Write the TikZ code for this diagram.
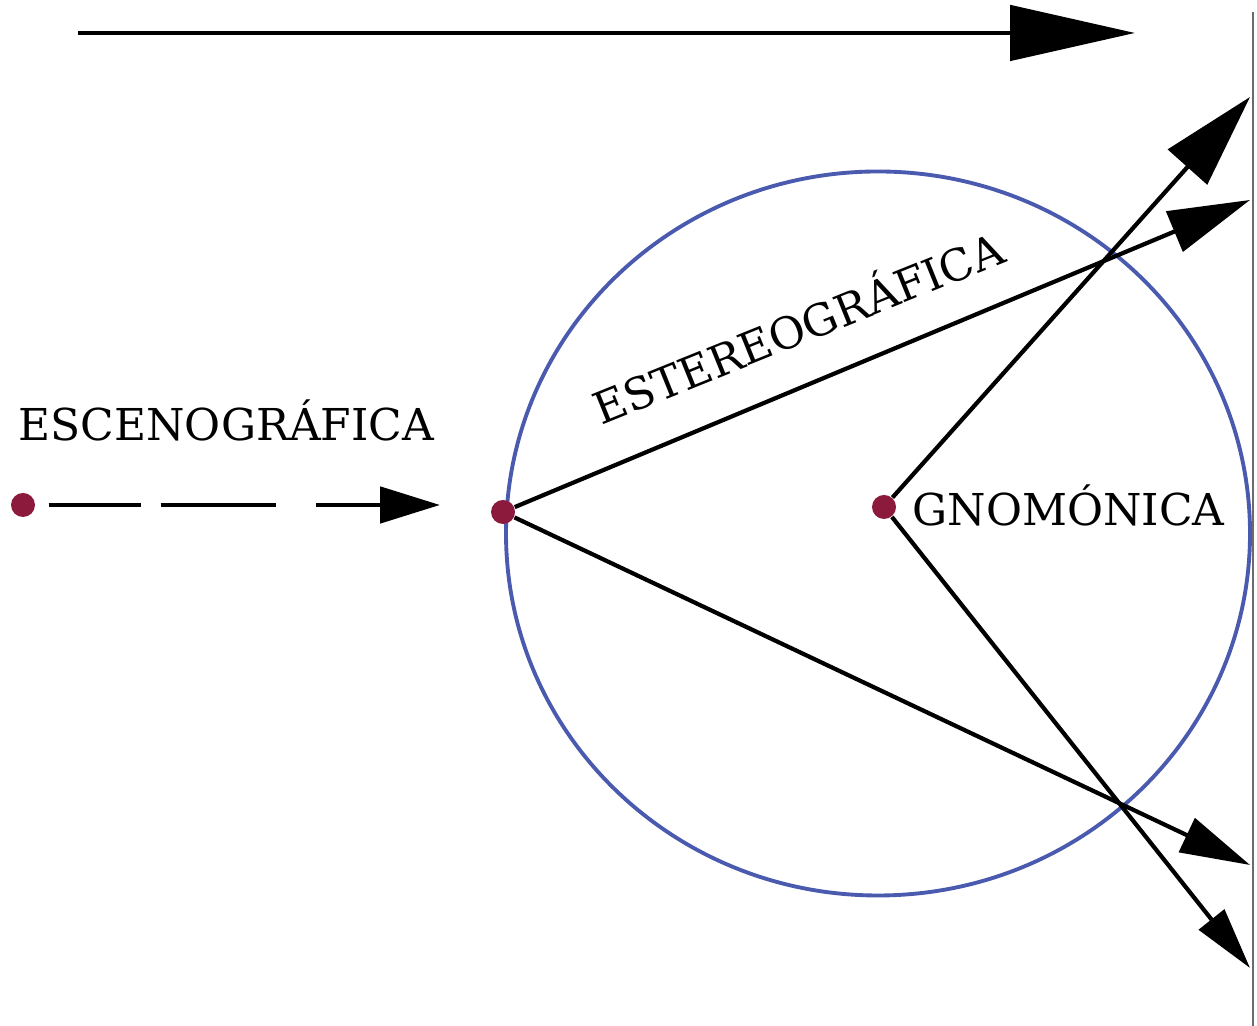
\documentclass[tikz,border=0pt]{standalone}
\usepackage{fontspec}
\setmainfont{DejaVu Serif}
\usepackage{tikz}
\usetikzlibrary{arrows.meta, positioning, calc}
\definecolor{ptcol}{HTML}{8C1A3C}
\definecolor{rimcol}{HTML}{4A5AAE}
\definecolor{edgecol}{HTML}{6A6A70}

\begin{document}
\begin{tikzpicture}[
    pt/.style={circle, fill=ptcol, minimum size=2.4mm, inner sep=0pt},
    lbl/.style={font=\fontsize{12.5}{15}\selectfont, inner sep=0pt},
    ray/.style={line width=1.2pt, black},
    rim/.style={line width=1.1pt, rimcol}]
  \useasboundingbox (0,0) rectangle (12.57,10.26);
  % top arrow
  \coordinate (t0) at (0.78,9.93);
  \coordinate (t1) at (11.35,9.93);
  \draw[line width=1.4pt, -{Triangle[length=12.5mm, width=5.5mm]}] (t0) -- (t1);
  % right edge
  \coordinate (r0) at (12.53,10.14);
  \coordinate (r1) at (12.53,0);
  \draw[edgecol, line width=0.8pt] (r0) -- (r1);
  % sphere
  \node[draw=none, inner sep=0pt] (c) at (8.78,4.925) {};
  \draw[rim] (c) ellipse [x radius=3.72, y radius=3.62];
  % points
  \node[pt] (pO) at (0.23,5.21) {};
  \node[pt] (pS) at (5.03,5.14) {};
  \node[pt] (pG) at (8.84,5.19) {};
  % ray ends
  \coordinate (s1) at (12.50,8.26);
  \coordinate (s2) at (12.50,1.61);
  \coordinate (g1) at (12.50,9.29);
  \coordinate (g2) at (12.50,0.58);
  \coordinate (d1) at (4.40,5.21);
  % escenografica
  \draw[line width=1.4pt, dash pattern=on 9.2mm off 2mm on 11.5mm off 4mm on 10mm,
    shorten <=1.3mm, -{Triangle[length=6mm, width=3.6mm]}] (pO) -- (d1);
  % estereografica
  \draw[ray, -{Triangle[length=8.2mm, width=4.3mm]}] (pS) -- (s1);
  \draw[ray, -{Triangle[length=7mm, width=3.7mm]}] (pS) -- (s2);
  % gnomonica
  \draw[ray, -{Triangle[length=9.4mm, width=5.2mm]}] (pG) -- (g1);
  \draw[ray, -{Triangle[length=6.2mm, width=3.2mm]}] (pG) -- (g2);
  % labels
  \node[lbl, anchor=west] (nE) at (0.18,6.06) {ESCENOGRÁFICA};
  \node[lbl, anchor=west] (nG) at (9.12,5.21) {GNOMÓNICA};
  \node[lbl, rotate=22] (nS) at (7.97,7.01) {ESTEREOGRÁFICA};
\end{tikzpicture}
\end{document}
